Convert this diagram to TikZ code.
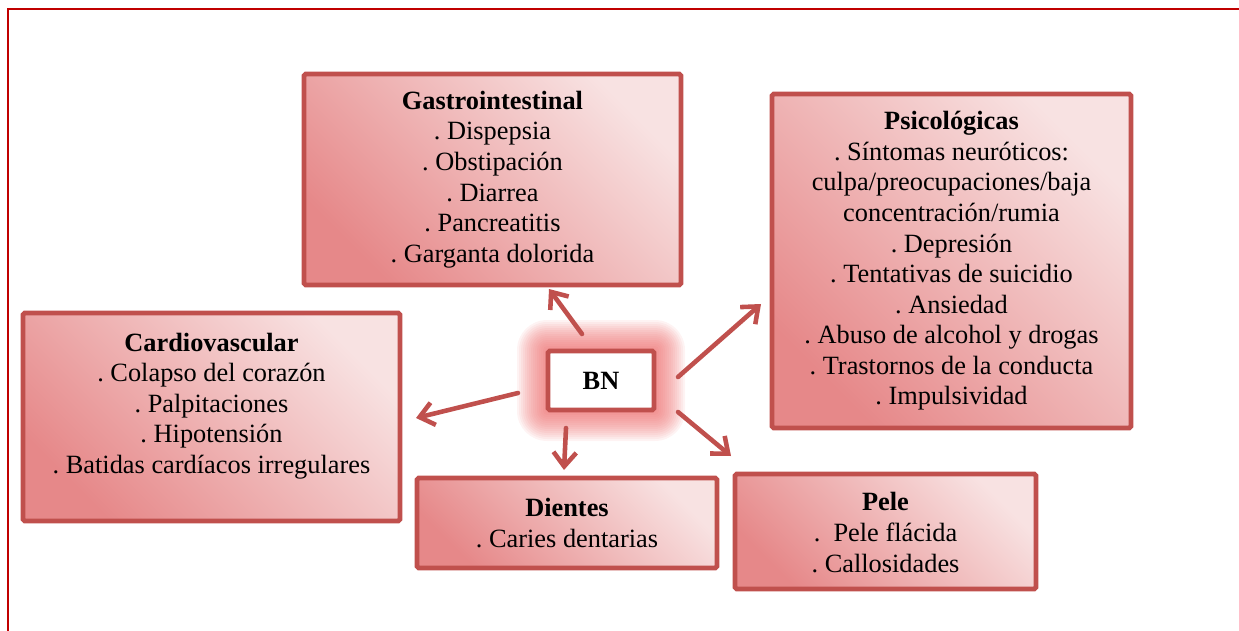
\documentclass[tikz,border=0pt]{standalone}
\usepackage{fontspec}
\setmainfont{Liberation Serif}
\usetikzlibrary{arrows.meta,calc}
\frenchspacing

\definecolor{edge}{RGB}{192,80,77}
\definecolor{frame}{RGB}{192,0,0}
\definecolor{shadeDark}{RGB}{230,136,137}
\definecolor{shadeLight}{RGB}{248,226,226}
\definecolor{glowc}{RGB}{236,100,100}

\tikzset{
  catbox/.style={draw=edge, line width=2.7pt, rounded corners=1pt,
    top color=shadeLight, bottom color=shadeDark,
    shading angle=-45, inner sep=0pt},
  cattext/.style={align=center, inner sep=0pt,
    font=\fontsize{15}{17.4}\selectfont},
  corebox/.style={draw=edge, line width=2.7pt, fill=white, rounded corners=1pt,
    inner sep=0pt, font=\fontsize{15}{17.4}\selectfont\bfseries},
  link/.style={draw=edge, line width=2.6pt, line cap=round, line join=round,
    -{Straight Barb[length=8pt, width=13pt]}},
  outline/.style={draw=frame, line width=1.6pt}
}

\begin{document}
\begin{tikzpicture}[x=0.02cm, y=-0.02cm]
\useasboundingbox (0,0) rectangle (1239,631);

% page frame
\draw[outline] (8,631) -- (8,9) -- (1239,9);

% category boxes
\node[catbox, minimum width=7.54cm, minimum height=4.22cm, cattext] (gastro) at (492.5,179.5)
  {\textbf{Gastrointestinal}\\. Dispepsia\\. Obstipación\\. Diarrea\\. Pancreatitis\\. Garganta dolorida};

\node[catbox, minimum width=7.18cm, minimum height=6.68cm, cattext] (psico) at (951.5,261)
  {\textbf{Psicológicas}\\. Síntomas neuróticos:\\culpa/preocupaciones/baja\\concentración/rumia\\. Depresión\\. Tentativas de suicidio\\. Ansiedad\\. Abuso de alcohol y drogas\\. Trastornos de la conducta\\. Impulsividad};

\node[catbox, minimum width=7.54cm, minimum height=4.16cm] (cardio) at (211.5,417) {};
\node[cattext] (cardiotext) at (211.5,406)
  {\textbf{Cardiovascular}\\. Colapso del corazón\\. Palpitaciones\\. Hipotensión\\. Batidas cardíacos irregulares};

\node[catbox, minimum width=6.00cm, minimum height=1.80cm, cattext] (dientes) at (567,523)
  {\textbf{Dientes}\\. Caries dentarias};

\node[catbox, minimum width=6.02cm, minimum height=2.30cm] (pele) at (885.5,531.5) {};
\node[cattext] (peletext) at (885.5,532.5)
  {\textbf{Pele}\\.\ \ Pele flácida\\. Callosidades};

% soft glow around the central box
\coordinate (bnsw) at (547,411);
\coordinate (bnne) at (655,350);
\foreach \i in {1,...,15}{
  \pgfmathsetmacro{\d}{2*\i}
  \fill[glowc, opacity=0.075, rounded corners=\d*0.02cm]
    ($(bnsw)+(-\d,\d)$) rectangle ($(bnne)+(\d,-\d)$);
}

% arrow end points
\coordinate (tg) at (582,334);   \coordinate (hg) at (549,289);
\coordinate (tc) at (518,393);   \coordinate (hc) at (416,418);
\coordinate (tp) at (678,377);   \coordinate (hp) at (761,304);
\coordinate (tl) at (678,412);   \coordinate (hl) at (731,456);
\coordinate (td) at (566,428);   \coordinate (hd) at (564,470);

\draw[link] (tg) -- (hg);
\draw[link] (tc) -- (hc);
\draw[link] (tp) -- (hp);
\draw[link] (tl) -- (hl);
\draw[link] (td) -- (hd);

% central node
\node[corebox, minimum width=2.12cm, minimum height=1.18cm] (bn) at (601,380.5) {BN};
\end{tikzpicture}
\end{document}
